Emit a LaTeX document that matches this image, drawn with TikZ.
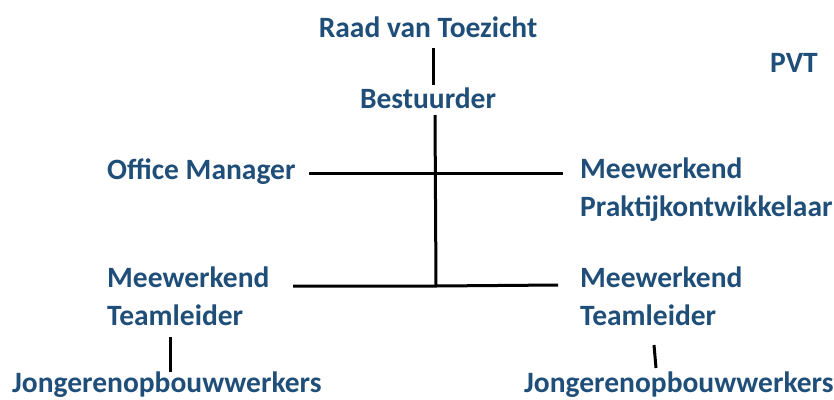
\documentclass[tikz,border=0pt]{standalone}
\usepackage{fontspec}
\setmainfont{Carlito}
\definecolor{orgblue}{HTML}{1F4E79}
\begin{document}
\begin{tikzpicture}[x=1pt,y=-1pt,
  lbl/.style={font=\fontsize{29.5}{38}\selectfont\bfseries, text=orgblue, inner sep=0pt},
  conn/.style={line width=3pt, black}]
\useasboundingbox (0,0) rectangle (834,399);
% labels
\node[lbl, anchor=base] (raad) at (428,37) {Raad van Toezicht};
\node[lbl, anchor=base] (best) at (428,108) {Bestuurder};
\node[lbl, anchor=base west] (pvt) at (770,72) {PVT};
\node[lbl, anchor=base west] (office) at (107,179) {Office Manager};
\node[lbl, anchor=base west] (mpA) at (580,178) {Meewerkend};
\node[lbl, anchor=base west] (mpB) at (580,216) {Praktijkontwikkelaar};
\node[lbl, anchor=base west] (tlLA) at (107,287) {Meewerkend};
\node[lbl, anchor=base west] (tlLB) at (107,325) {Teamleider};
\node[lbl, anchor=base west] (tlRA) at (580,287) {Meewerkend};
\node[lbl, anchor=base west] (tlRB) at (580,325) {Teamleider};
\node[lbl, anchor=base west] (jL) at (12,392) {Jongerenopbouwwerkers};
\node[lbl, anchor=base west] (jR) at (524,392) {Jongerenopbouwwerkers};
% connector end points
\coordinate (raadBot) at (433,48);
\coordinate (bestTop) at (433,85);
\coordinate (bestBot) at (435,115);
\coordinate (jTop) at (435,173);
\coordinate (jBot) at (436,286);
\coordinate (offEnd) at (309,173);
\coordinate (mpEnd) at (563,173);
\coordinate (tlLEnd) at (293,286);
\coordinate (tlREnd) at (558,285);
\coordinate (tlLBot) at (170,337);
\coordinate (jLTop) at (170,372);
\coordinate (tlRBot) at (654,345);
\coordinate (jRTop) at (656,368);
% connectors
\draw[conn] (raadBot) -- (bestTop);
\draw[conn] (bestBot) -- (jBot);
\draw[conn] (offEnd) -- (jTop) -- (mpEnd);
\draw[conn] (tlLEnd) -- (jBot) -- (tlREnd);
\draw[conn] (tlLBot) -- (jLTop);
\draw[conn] (tlRBot) -- (jRTop);
\end{tikzpicture}
\end{document}
